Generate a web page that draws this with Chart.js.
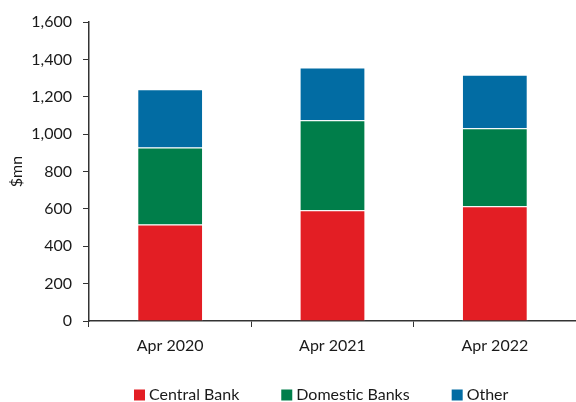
<!DOCTYPE html>
<html>
<head>
<meta charset="utf-8">
<script src="https://cdn.jsdelivr.net/npm/chart.js@4/dist/chart.umd.min.js"></script>
<style>
  html, body { margin: 0; padding: 0; background: #fff; }
  #wrap { width: 576px; height: 402px; }
</style>
</head>
<body>
<div id="wrap"><canvas id="holdings" width="576" height="402"></canvas></div>
<script>
  // ---- Holdings by type ($mn) ----
  const periods      = ['Apr 2020', 'Apr 2021', 'Apr 2022'];
  const centralBank  = [517, 592, 614];
  const domesticBank = [412, 482, 417];
  const other        = [311, 282, 287];
  const yTicks       = [0, 200, 400, 600, 800, 1000, 1200, 1400, 1600];

  const FONT = 'Lato, "Open Sans", sans-serif';
  const INK  = '#1a1a1a';

  function series(label, data, color) {
    return {
      label,
      data,
      backgroundColor: color,
      borderColor: 'rgba(255,255,255,0.45)',
      borderWidth: 1,
      barPercentage: 0.405,
      categoryPercentage: 1,
    };
  }

  // legend row along the bottom edge, drawn from the dataset labels/colours
  const bottomLegend = {
    id: 'bottomLegend',
    afterDraw(chart) {
      const ctx = chart.ctx;
      const y = 395;
      let x = 134;
      ctx.save();
      ctx.font = '16px ' + FONT;
      ctx.textBaseline = 'middle';
      ctx.textAlign = 'left';
      chart.data.datasets.forEach(ds => {
        ctx.fillStyle = ds.backgroundColor;
        ctx.fillRect(x, y - 5.5, 11, 11);
        ctx.fillStyle = INK;
        ctx.fillText(ds.label, x + 15, y);
        x += 15 + ctx.measureText(ds.label).width + 42;
      });
      ctx.restore();
    },
  };

  new Chart(document.getElementById('holdings'), {
    type: 'bar',
    data: {
      labels: periods,
      datasets: [
        series('Central Bank', centralBank, '#E31E24'),
        series('Domestic Banks', domesticBank, '#007E4A'),
        series('Other', other, '#026CA3'),
      ],
    },
    plugins: [bottomLegend],
    options: {
      responsive: false,
      animation: false,
      devicePixelRatio: 1,
      layout: { padding: { top: 22, right: 0, left: 4, bottom: 46 } },
      plugins: {
        tooltip: { enabled: false },
        legend: { display: false },
      },
      scales: {
        x: {
          stacked: true,
          afterFit: axis => { axis.height = 35; },
          grid: { drawOnChartArea: false, drawTicks: true, tickLength: 6, color: '#333', offset: true },
          border: { color: '#333', width: 1.5 },
          ticks: { color: INK, padding: 9, font: { family: FONT, size: 16 } },
        },
        y: {
          stacked: true,
          min: 0,
          max: 1600,
          afterBuildTicks: axis => { axis.ticks = yTicks.map(v => ({ value: v })); },
          afterFit: axis => { axis.width = 85; },
          grid: { drawOnChartArea: false, drawTicks: true, tickLength: 6, color: '#333' },
          border: { color: '#333', width: 1.5 },
          title: { display: true, text: '$mn', color: INK, font: { family: FONT, size: 16 }, padding: { top: 3, bottom: 4 } },
          ticks: {
            color: INK,
            padding: 11,
            font: { family: FONT, size: 16 },
            callback: v => v.toLocaleString('en-US'),
          },
        },
      },
    },
  });
</script>
</body>
</html>
